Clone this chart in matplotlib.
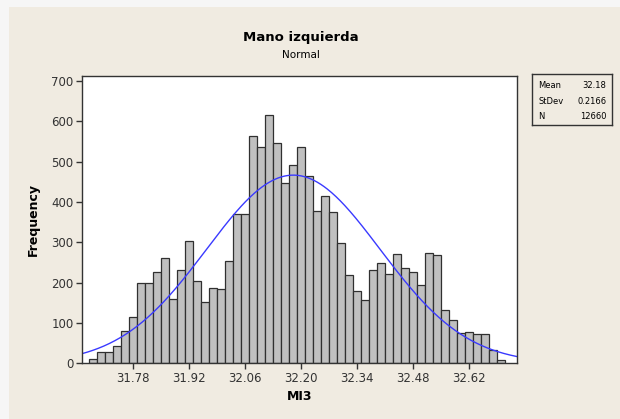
import numpy as np
import matplotlib
matplotlib.use("Agg")
import matplotlib.pyplot as plt
from matplotlib.patches import Rectangle

# histogram bins of MI3 (bin width 0.02, first edge 31.67)
bin_start = 31.67
bin_width = 0.02
counts = [10, 29, 29, 43, 80, 115, 200, 200, 226, 262,
          160, 230, 303, 205, 152, 186, 183, 253, 369, 369,
          563, 536, 615, 547, 448, 492, 536, 465, 377, 414,
          375, 297, 220, 178, 156, 231, 249, 222, 271, 236,
          226, 195, 274, 269, 133, 107, 74, 77, 72, 72,
          33, 9]

mean = 32.18
stdev = 0.2166
n_obs = 12660

x_ticks = [31.78, 31.92, 32.06, 32.20, 32.34, 32.48, 32.62]
y_ticks = [0, 100, 200, 300, 400, 500, 600, 700]

bg = "#f0ebe1"
fig = plt.figure(figsize=(6.2, 4.19), dpi=100, facecolor=bg)

# faint shadow along top/left edges like the screenshot
fig.patches.append(Rectangle((0, 0), 9 / 620, 1, transform=fig.transFigure,
                             facecolor="#f6f6f6", edgecolor="none", zorder=0))
fig.patches.append(Rectangle((0, 1 - 7 / 419), 1, 7 / 419, transform=fig.transFigure,
                             facecolor="#f6f6f6", edgecolor="none", zorder=0))

ax = fig.add_axes([82 / 620, 1 - 363.3 / 419, 435 / 620, 287.3 / 419])
ax.set_facecolor("white")

edges = bin_start + bin_width * np.arange(len(counts))
ax.bar(edges, counts, width=bin_width, align="edge", color="#c0c0c0",
       edgecolor="#303030", linewidth=0.9)

# fitted normal curve from the summary stats
xs = np.linspace(31.652, 32.739, 400)
ys = n_obs * bin_width / (stdev * np.sqrt(2 * np.pi)) * np.exp(-0.5 * ((xs - mean) / stdev) ** 2)
ax.plot(xs, ys, color="#3a3aff", linewidth=1.0)

ax.set_xlim(31.652, 32.739)
ax.set_ylim(0, 712)
ax.set_xticks(x_ticks)
ax.set_xticklabels([f"{t:.2f}" for t in x_ticks])
ax.set_yticks(y_ticks)
ax.tick_params(direction="out", length=4, width=1, colors="#333333",
               labelsize=8.5, pad=2)
for s in ax.spines.values():
    s.set_color("#333333")
    s.set_linewidth(1.0)

ax.set_xlabel("MI3", fontsize=9, fontweight="bold", labelpad=4)
ax.set_ylabel("Frequency", fontsize=9, fontweight="bold", labelpad=8)

fig.text(301 / 620, 1 - 37 / 419, "Mano izquierda", ha="center", va="center",
         fontsize=9.5, fontweight="bold")
fig.text(301 / 620, 1 - 55 / 419, "Normal", ha="center", va="center", fontsize=7.5)

# stats box
bx = fig.add_axes([532 / 620, 1 - 125 / 419, 80 / 620, 51 / 419])
bx.set_facecolor(bg)
bx.set_xticks([])
bx.set_yticks([])
for s in bx.spines.values():
    s.set_color("#333333")
    s.set_linewidth(1.0)
rows = [("Mean", f"{mean:.2f}"), ("StDev", f"{stdev:.4f}"), ("N", f"{n_obs}")]
for i, (k, v) in enumerate(rows):
    yy = 0.78 - i * 0.31
    bx.text(0.08, yy, k, fontsize=6, va="center", ha="left", transform=bx.transAxes)
    bx.text(0.93, yy, v, fontsize=6, va="center", ha="right", transform=bx.transAxes)

fig.savefig("out.png", dpi=100, facecolor=bg)
